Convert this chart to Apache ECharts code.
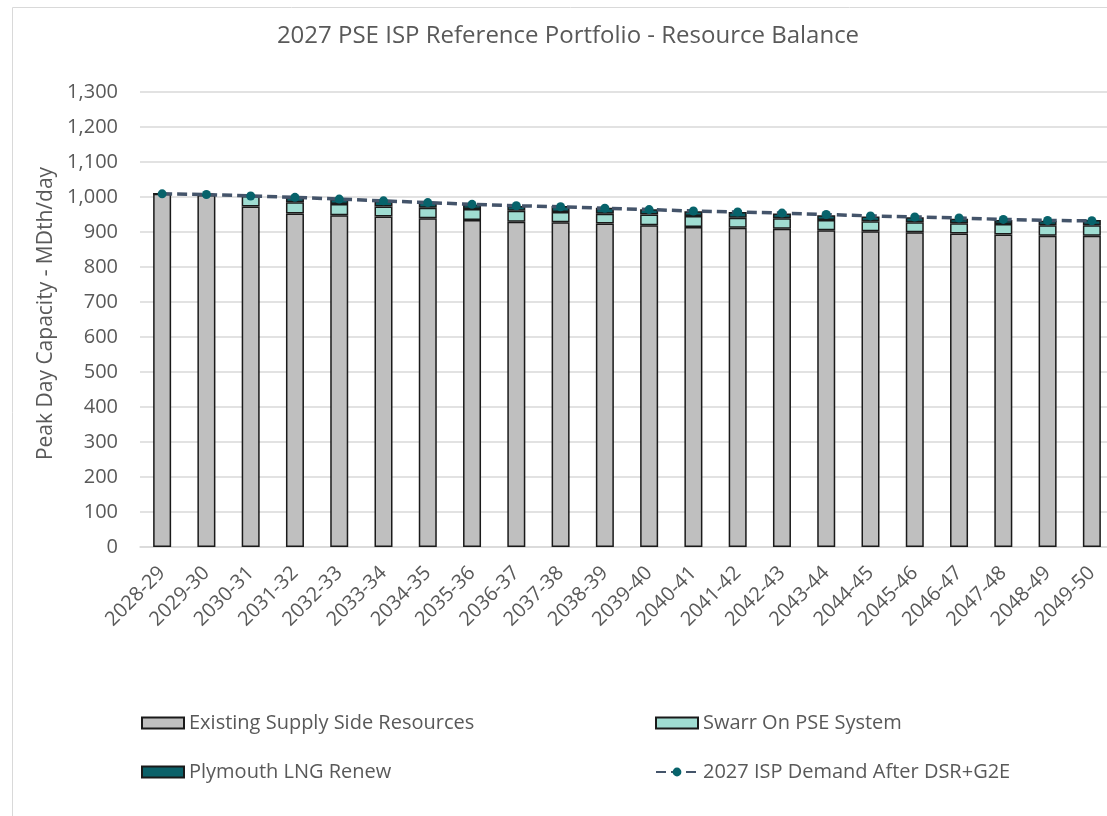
<!DOCTYPE html>
<html>
<head>
<meta charset="utf-8">
<script src="https://cdn.jsdelivr.net/npm/echarts@6/dist/echarts.min.js"></script>
<style>
  html, body { margin: 0; padding: 0; overflow: hidden; background: #fff; }
  #chart { width: 1136px; height: 816px; }
</style>
</head>
<body>
<div id="chart"></div>
<script>
  // 22 winter seasons
  var years = ['2028-29','2029-30','2030-31','2031-32','2032-33','2033-34','2034-35','2035-36',
    '2036-37','2037-38','2038-39','2039-40','2040-41','2041-42','2042-43','2043-44','2044-45',
    '2045-46','2046-47','2047-48','2048-49','2049-50'];
  var existing = [1009, 1006, 973, 953, 948, 944, 939, 934, 929, 928, 924, 919, 914, 912, 909, 905, 902, 899, 896, 893, 889, 889];
  var swarr = [0, 0, 30, 32, 32, 29, 30, 32, 32, 29, 28, 31, 32, 29, 30, 29, 29, 29, 29, 30, 30, 30];
  var plymouth = [0, 0, 0, 14, 14, 16, 15, 12, 13, 17, 17, 15, 13, 16, 14, 14, 13, 14, 13, 11, 13, 15];
  var demand = [1009, 1007, 1003, 999, 994, 989, 984, 979, 975, 972, 968, 964, 960, 957, 954, 950, 946, 943, 940, 936, 933, 932];

  var txt = '#595959';
  var font = '"Open Sans", "Noto Sans", sans-serif';

  var myChart = echarts.init(document.getElementById('chart'));
  myChart.setOption({
    animation: false,
    textStyle: { fontFamily: font, color: txt },
    graphic: [{
      type: 'rect', left: 10, top: 5,
      shape: { width: 1116, height: 830 },
      style: { fill: 'none', stroke: '#d9d9d9', lineWidth: 1 }
    }],
    title: {
      text: '2027 PSE ISP Reference Portfolio - Resource Balance',
      left: 'center', top: 19,
      textStyle: { fontFamily: font, color: txt, fontSize: 24, fontWeight: 'normal' }
    },
    legend: [{
      orient: 'vertical', left: 136, top: 708,
      itemWidth: 42, itemHeight: 11, itemGap: 29,
      textStyle: { fontFamily: font, color: txt, fontSize: 20 },
      data: [{ name: 'Existing Supply Side Resources', icon: 'rect' }, { name: 'Plymouth LNG Renew', icon: 'rect' }]
    }, {
      orient: 'vertical', left: 650, top: 708,
      itemWidth: 42, itemHeight: 11, itemGap: 29,
      textStyle: { fontFamily: font, color: txt, fontSize: 20 },
      data: [{ name: 'Swarr On PSE System', icon: 'rect' }, '2027 ISP Demand After DSR+G2E']
    }],
    grid: { left: 140, top: 92, width: 974, height: 455 },
    xAxis: {
      type: 'category',
      data: years,
      axisLine: { lineStyle: { color: '#d9d9d9', width: 1.5 } },
      axisTick: { show: false },
      axisLabel: { interval: 0, rotate: 45, margin: 23, color: txt, fontFamily: font, fontSize: 20 }
    },
    yAxis: {
      type: 'value',
      min: 0, max: 1300, interval: 100,
      name: 'Peak Day Capacity - MDth/day',
      nameLocation: 'middle', nameGap: 80, nameRotate: 90,
      nameTextStyle: { color: txt, fontFamily: font, fontSize: 21, padding: [0, 0, 0, 12] },
      axisLine: { show: false },
      axisTick: { show: false },
      splitLine: { lineStyle: { color: '#d9d9d9', width: 1.5 } },
      axisLabel: {
        margin: 22, color: txt, fontFamily: font, fontSize: 20,
        formatter: function (v) { return v.toLocaleString('en-US'); }
      }
    },
    series: [{
      name: 'Existing Supply Side Resources',
      type: 'bar', stack: 'supply', barWidth: 18,
      itemStyle: { color: '#bfbfbf', borderColor: '#1a1a1a', borderWidth: 1.5 },
      data: existing
    }, {
      name: 'Swarr On PSE System',
      type: 'bar', stack: 'supply', barWidth: 18,
      itemStyle: { color: '#a0ddd2', borderColor: '#1a1a1a', borderWidth: 1.5 },
      data: swarr
    }, {
      name: 'Plymouth LNG Renew',
      type: 'bar', stack: 'supply', barWidth: 18,
      itemStyle: { color: '#0b6169', borderColor: '#1a1a1a', borderWidth: 1.5 },
      data: plymouth
    }, {
      name: '2027 ISP Demand After DSR+G2E',
      type: 'line',
      symbol: 'circle', symbolSize: 9,
      itemStyle: { color: '#07636b' },
      lineStyle: { color: '#44546a', width: 3.5, type: [10, 5] },
      z: 5,
      data: demand
    }]
  });
</script>
</body>
</html>
